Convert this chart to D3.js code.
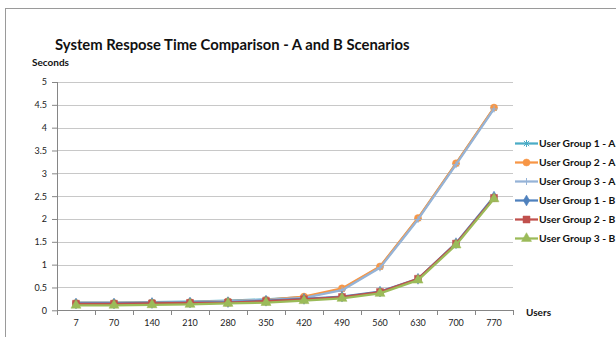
<!DOCTYPE html>
<html>
<head>
<meta charset="utf-8">
<script src="https://cdn.jsdelivr.net/npm/d3@7"></script>
<style>
  body { margin: 0; background: #fff; }
  svg { display: block; font-family: Lato, "Open Sans", sans-serif; }
</style>
</head>
<body>
<svg id="chart" width="616" height="337"></svg>
<script>
// data
var users = ['7', '70', '140', '210', '280', '350', '420', '490', '560', '630', '700', '770'];
var g1A = [0.17, 0.17, 0.18, 0.19, 0.21, 0.24, 0.29, 0.46, 0.95, 2.01, 3.21, 4.43];
var g2A = [0.16, 0.16, 0.17, 0.18, 0.20, 0.23, 0.30, 0.48, 0.96, 2.02, 3.22, 4.44];
var g3A = [0.16, 0.16, 0.17, 0.18, 0.20, 0.23, 0.27, 0.44, 0.93, 1.99, 3.19, 4.41];
var g1B = [0.15, 0.15, 0.16, 0.17, 0.18, 0.21, 0.25, 0.30, 0.41, 0.69, 1.47, 2.49];
var g2B = [0.14, 0.14, 0.15, 0.16, 0.17, 0.20, 0.24, 0.29, 0.40, 0.69, 1.46, 2.46];
var g3B = [0.11, 0.11, 0.12, 0.13, 0.15, 0.17, 0.21, 0.26, 0.37, 0.66, 1.43, 2.44];
var yTicks = [0, 0.5, 1, 1.5, 2, 2.5, 3, 3.5, 4, 4.5, 5];

var series = [
  {name: 'User Group 1 - A', values: g1A, color: '#4bacc6', marker: 'star'},
  {name: 'User Group 2 - A', values: g2A, color: '#f79646', marker: 'circle'},
  {name: 'User Group 3 - A', values: g3A, color: '#95b3d7', marker: 'plus'},
  {name: 'User Group 1 - B', values: g1B, color: '#4f81bd', marker: 'diamond'},
  {name: 'User Group 2 - B', values: g2B, color: '#c0504d', marker: 'square'},
  {name: 'User Group 3 - B', values: g3B, color: '#9bbb59', marker: 'triangle'}
];

var svg = d3.select('#chart');
var plotLeft = 57, plotRight = 513, plotTop = 82, plotBottom = 310.3;

// chart frame (runs past the picture edges)
svg.append('rect')
    .attr('x', 5.5).attr('y', 8.5)
    .attr('width', 700).attr('height', 400)
    .attr('fill', 'none').attr('stroke', '#9a9a9a').attr('stroke-width', 1);

var x = d3.scaleBand().domain(users).range([plotLeft, plotRight]).padding(0);
var y = d3.scaleLinear().domain([0, 5]).range([plotBottom, plotTop]);
var cx = function(i) { return x(users[i]) + x.bandwidth() / 2; };

// gridlines
svg.append('g').selectAll('line')
    .data(yTicks.slice(1))
    .enter().append('line')
    .attr('x1', plotLeft).attr('x2', plotRight)
    .attr('y1', function(d) { return Math.round(y(d)) + 0.5; })
    .attr('y2', function(d) { return Math.round(y(d)) + 0.5; })
    .attr('stroke', '#c8c8c8').attr('stroke-width', 1);

// y axis
var yAxis = d3.axisLeft(y).tickValues(yTicks).tickFormat(d3.format('')).tickSize(5).tickPadding(5);
svg.append('g')
    .attr('transform', 'translate(' + plotLeft + ',0)')
    .call(yAxis)
    .call(function(g) {
        g.select('.domain').attr('stroke', '#868686').attr('d', 'M0.5,' + y(5) + 'V' + plotBottom);
        g.selectAll('.tick line').attr('stroke', '#868686');
        g.selectAll('.tick text').attr('fill', '#222').style('font-size', '9px').attr('font-family', 'Lato, sans-serif');
    });

// x axis: ticks sit between categories
var xAxis = d3.axisBottom(x).tickSize(0).tickPadding(9);
svg.append('g')
    .attr('transform', 'translate(0,' + (Math.round(plotBottom) + 0.5) + ')')
    .call(xAxis)
    .call(function(g) {
        g.select('.domain').attr('stroke', '#868686').attr('d', 'M' + plotLeft + ',0H' + plotRight);
        g.selectAll('.tick text').attr('fill', '#222').style('font-size', '9px').attr('font-family', 'Lato, sans-serif');
    });
svg.append('g').selectAll('line')
    .data(users.concat(['end']))
    .enter().append('line')
    .attr('x1', function(d, i) { return Math.round(plotLeft + i * x.bandwidth()) + 0.5; })
    .attr('x2', function(d, i) { return Math.round(plotLeft + i * x.bandwidth()) + 0.5; })
    .attr('y1', Math.round(plotBottom)).attr('y2', Math.round(plotBottom) + 5)
    .attr('stroke', '#868686');

function markerPath(type, size) {
    if (type === 'circle') return d3.symbol(d3.symbolCircle, size * size * 0.8)();
    if (type === 'square') return d3.symbol(d3.symbolSquare, size * size)();
    if (type === 'diamond') return d3.symbol(d3.symbolDiamond, size * size * 0.7)();
    if (type === 'triangle') return d3.symbol(d3.symbolTriangle, size * size * 0.9)();
    var h = size / 2;
    if (type === 'plus') return 'M' + (-h) + ',0H' + h + 'M0,' + (-h) + 'V' + h;
    // star: plus + x
    var k = h * 0.75;
    return 'M' + (-h) + ',0H' + h + 'M0,' + (-h) + 'V' + h +
        'M' + (-k) + ',' + (-k) + 'L' + k + ',' + k + 'M' + (-k) + ',' + k + 'L' + k + ',' + (-k);
}
var strokedMarker = function(t) { return t === 'plus' || t === 'star'; };

var line = d3.line()
    .x(function(d, i) { return cx(i); })
    .y(function(d) { return y(d); });

series.forEach(function(s) {
    var g = svg.append('g');
    g.append('path')
        .attr('d', line(s.values))
        .attr('fill', 'none')
        .attr('stroke', s.color)
        .attr('stroke-width', 2.25)
        .attr('stroke-linejoin', 'round');
    g.selectAll('path.mk')
        .data(s.values)
        .enter().append('path')
        .attr('class', 'mk')
        .attr('transform', function(d, i) { return 'translate(' + cx(i) + ',' + y(d) + ')'; })
        .attr('d', markerPath(s.marker, 7))
        .attr('fill', strokedMarker(s.marker) ? 'none' : s.color)
        .attr('stroke', s.color)
        .attr('stroke-width', strokedMarker(s.marker) ? 1 : 0.5);
});

// legend
var legend = svg.append('g');
series.forEach(function(s, i) {
    var ly = 143.5 + i * 19;
    legend.append('line')
        .attr('x1', 515).attr('x2', 538)
        .attr('y1', ly).attr('y2', ly)
        .attr('stroke', s.color).attr('stroke-width', 2.25);
    legend.append('path')
        .attr('transform', 'translate(526.5,' + ly + ')')
        .attr('d', markerPath(s.marker, 7))
        .attr('fill', strokedMarker(s.marker) ? 'none' : s.color)
        .attr('stroke', s.color)
        .attr('stroke-width', strokedMarker(s.marker) ? 1 : 0.5);
    legend.append('text')
        .attr('x', 539).attr('y', ly + 3.5)
        .attr('font-size', 10.3).attr('font-weight', 'bold').attr('fill', '#111')
        .text(s.name);
});

// titles
svg.append('text')
    .attr('x', 55).attr('y', 50)
    .attr('font-size', 14.8).attr('font-weight', 'bold').attr('fill', '#111')
    .text('System Respose Time Comparison - A and B Scenarios');
svg.append('text')
    .attr('x', 32).attr('y', 66)
    .attr('font-size', 10).attr('font-weight', 'bold').attr('fill', '#111')
    .text('Seconds');
svg.append('text')
    .attr('x', 526).attr('y', 315.5)
    .attr('font-size', 10).attr('font-weight', 'bold').attr('fill', '#111')
    .text('Users');
</script>
</body>
</html>
